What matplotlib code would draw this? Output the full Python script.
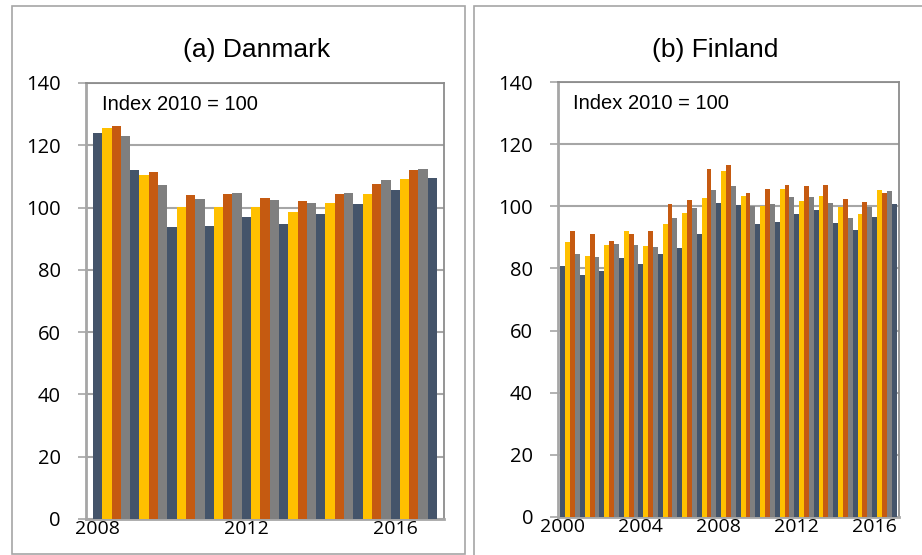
import matplotlib
matplotlib.use('Agg')
import matplotlib.pyplot as plt
from matplotlib.patches import Rectangle

# Quarterly index values, 2010 = 100
dk_years = [2008, 2012, 2016]
dk_start = 2008
dk_values = [124.1, 125.6, 126.3, 123.1,
             112.1, 110.5, 111.4, 107.3,
             93.8, 100.2, 104.0, 102.8,
             94.1, 100.1, 104.4, 104.7,
             97.0, 100.1, 103.1, 102.4,
             94.7, 98.7, 102.1, 101.5,
             97.9, 101.5, 104.5, 104.8,
             101.2, 104.5, 107.7, 108.9,
             105.6, 109.2, 112.1, 112.4,
             109.5]

fi_years = [2000, 2004, 2008, 2012, 2016]
fi_start = 2000
fi_values = [80.8, 88.4, 92.0, 84.6,
             77.8, 84.0, 91.0, 83.6,
             79.1, 87.5, 88.8, 87.8,
             83.3, 92.0, 91.0, 87.5,
             81.4, 87.2, 92.0, 86.8,
             84.6, 94.2, 100.6, 96.1,
             86.5, 97.7, 101.9, 99.4,
             91.0, 102.6, 111.9, 105.1,
             100.9, 111.5, 113.2, 106.4,
             100.3, 103.2, 104.2, 100.0,
             94.2, 100.0, 105.5, 100.6,
             94.9, 105.5, 106.7, 102.9,
             97.4, 101.6, 106.4, 102.9,
             98.7, 103.2, 106.7, 100.9,
             94.5, 99.7, 102.2, 96.1,
             92.3, 97.4, 101.3, 99.7,
             96.5, 105.1, 104.2, 104.8,
             100.6]

# one colour per quarter
quarter_colors = ['#44546A', '#FFC000', '#C55A11', '#7F7F7F']
yticks = [0, 20, 40, 60, 80, 100, 120, 140]

W, H = 922, 555
fig = plt.figure(figsize=(W / 100, H / 100), dpi=100)


def px_axes(x0, y0, x1, y1):
    # axes placed with pixel coordinates (top-left origin)
    return fig.add_axes([x0 / W, 1 - y1 / H, (x1 - x0) / W, (y1 - y0) / H])


def draw_panel(ax, values, start, years, title, xlim, title_x):
    n = len(values)
    colors = [quarter_colors[i % 4] for i in range(n)]
    ax.bar(range(n), values, width=1.0, color=colors, zorder=3)
    ax.set_xlim(*xlim)
    ax.set_ylim(0, 140)
    ax.set_yticks(yticks)
    ax.set_yticklabels([str(t) for t in yticks], fontfamily='Open Sans', fontsize=14.5)
    ax.set_xticks([(y - start) * 4 for y in years])
    ax.set_xticklabels([str(y) for y in years], fontfamily='Open Sans', fontsize=14)
    ax.tick_params(axis='y', length=6, width=1.2, color='#A6A6A6', pad=12)
    ax.tick_params(axis='x', length=0, pad=1)
    ax.grid(axis='y', color='#A6A6A6', linewidth=1.5, zorder=0)
    ax.set_axisbelow(True)
    for side in ['left', 'bottom']:
        ax.spines[side].set_color('#A6A6A6')
        ax.spines[side].set_linewidth(2)
    for side in ['top', 'right']:
        ax.spines[side].set_color('#8C8C8C')
        ax.spines[side].set_linewidth(1.3)
    ax.text(0.045, 0.95, 'Index 2010 = 100', transform=ax.transAxes,
            fontfamily='Liberation Sans', fontsize=14.5, va='center', ha='left')
    fig.text(title_x / W, 1 - 50 / H, title, fontfamily='Liberation Sans',
             fontsize=19, ha='center', va='center')


# panel frames
fig.patches.append(Rectangle((12 / W, 1 - 554 / H), (465 - 12) / W, (554 - 6) / H,
                             transform=fig.transFigure, fill=False,
                             edgecolor='#A6A6A6', linewidth=1.2))
fig.patches.append(Rectangle((474 / W, -0.05), 0.6, 1 - 6 / H + 0.05,
                             transform=fig.transFigure, fill=False,
                             edgecolor='#A6A6A6', linewidth=1.2))

ax1 = px_axes(86, 83, 444, 519)
draw_panel(ax1, dk_values, dk_start, dk_years, '(a) Danmark', (-1.25, 37.25), 257)

ax2 = px_axes(558, 82, 899, 517)
draw_panel(ax2, fi_values, fi_start, fi_years, '(b) Finland', (-1.0, 69.0), 715)

fig.savefig('out.png', dpi=100)
